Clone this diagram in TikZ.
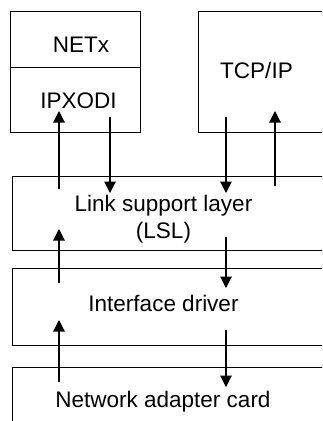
\documentclass[tikz,border=0pt]{standalone}
\usepackage{fontspec}
\setmainfont{Liberation Sans}
\usetikzlibrary{arrows.meta}

\begin{document}
\begin{tikzpicture}[x=1pt, y=-1pt,
      layer/.style={draw, line width=1.1pt, inner sep=0pt, anchor=north west},
      txt/.style={font=\fontsize{22.5}{27}\selectfont, align=center, inner sep=0pt},
      pfeil/.style={-{Triangle[width=11.5pt, length=11.5pt]}, line width=1.1pt}]
    \useasboundingbox (0,0) rectangle (322,421);
    \clip (0,0) rectangle (322,421);
    % boxes (right and bottom ones run past the edge)
    \node[layer, minimum width=130pt, minimum height=56pt] (netx) at (9.5,11) {};
    \node[layer, minimum width=130pt, minimum height=64.5pt] (ipxodi) at (9.5,67) {};
    \node[layer, minimum width=150pt, minimum height=120.5pt] (tcpip) at (198,11) {};
    \node[layer, minimum width=340pt, minimum height=74pt] (lsl) at (12,176) {};
    \node[layer, minimum width=340pt, minimum height=77pt] (ifdrv) at (12,268) {};
    \node[layer, minimum width=340pt, minimum height=80pt] (nac) at (12,367) {};
    % labels
    \node[txt, anchor=base] (netxlbl) at (81,52) {NETx};
    \node[txt, anchor=base] (ipxlbl) at (78.5,108) {IPXODI};
    \node[txt, anchor=base] (tcplbl) at (256.5,78) {TCP/IP};
    \node[txt] (lsllbl) at (163.5,219) {Link support layer\\(LSL)};
    \node[txt, anchor=base] (ifdrvlbl) at (163.5,311) {Interface driver};
    \node[txt, anchor=base] (naclbl) at (163,407) {Network adapter card};
    % arrow ends
    \coordinate (ipxUpA) at (59,189);   \coordinate (ipxUpB) at (59,111);
    \coordinate (ipxDnA) at (110,117);  \coordinate (ipxDnB) at (110,193);
    \coordinate (tcpDnA) at (226,117);  \coordinate (tcpDnB) at (226,193);
    \coordinate (tcpUpA) at (275,186);  \coordinate (tcpUpB) at (275,111);
    \coordinate (lslUpA) at (59,283);   \coordinate (lslUpB) at (59,229);
    \coordinate (lslDnA) at (226,237);  \coordinate (lslDnB) at (226,288);
    \coordinate (drvUpA) at (59,382);   \coordinate (drvUpB) at (59,320);
    \coordinate (drvDnA) at (226,330);  \coordinate (drvDnB) at (226,387);
    \draw[pfeil] (ipxUpA) -- (ipxUpB);
    \draw[pfeil] (ipxDnA) -- (ipxDnB);
    \draw[pfeil] (tcpDnA) -- (tcpDnB);
    \draw[pfeil] (tcpUpA) -- (tcpUpB);
    \draw[pfeil] (lslUpA) -- (lslUpB);
    \draw[pfeil] (lslDnA) -- (lslDnB);
    \draw[pfeil] (drvUpA) -- (drvUpB);
    \draw[pfeil] (drvDnA) -- (drvDnB);
  \end{tikzpicture}
\end{document}
